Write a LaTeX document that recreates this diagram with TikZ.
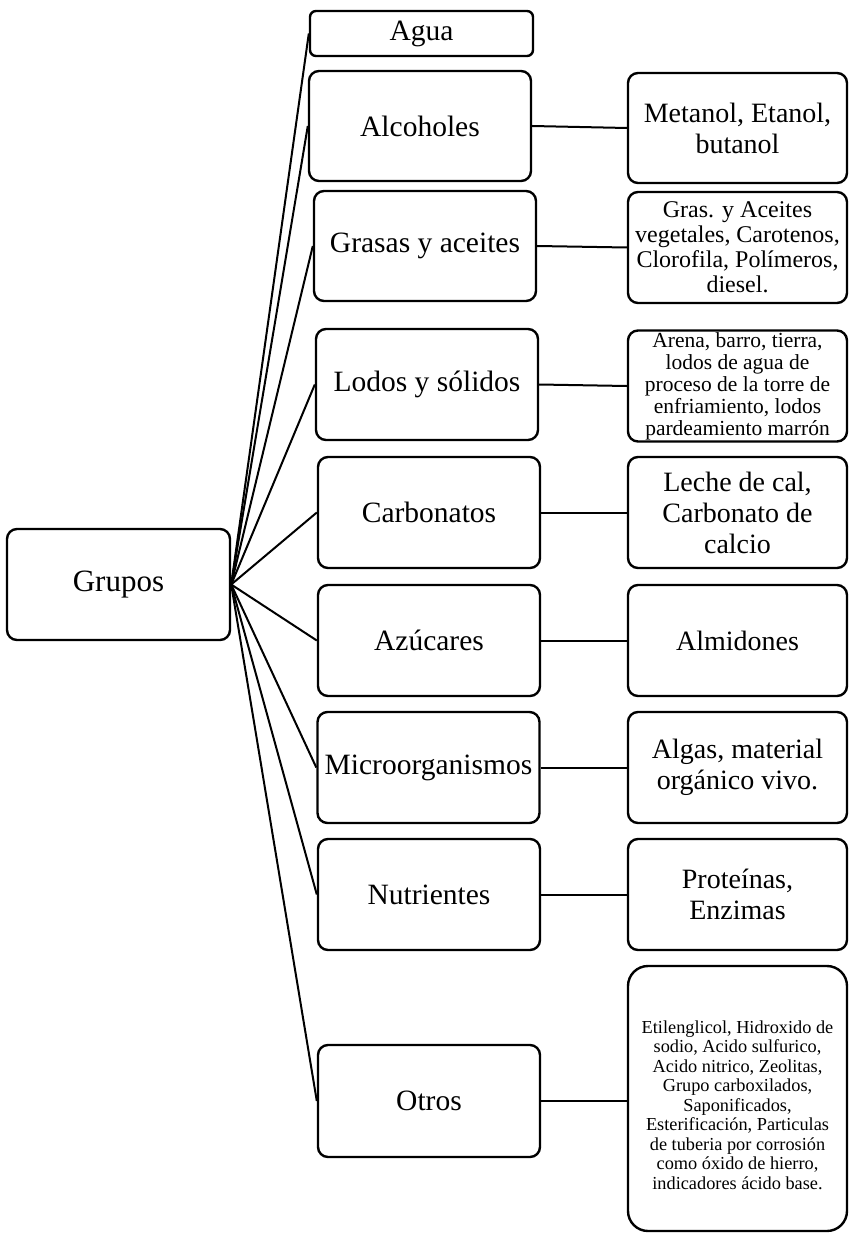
\documentclass[tikz,border=0pt]{standalone}
\usepackage{fontspec}
\setmainfont{Liberation Serif}
\begin{document}
\begin{tikzpicture}[x=1pt,y=-1pt,
  box/.style={draw, line width=2.4pt, rounded corners=10pt, inner sep=0pt, align=center},
  leftbox/.style={box, minimum width=222pt, minimum height=111pt, font=\fontsize{29.5}{32}\selectfont},
  rightbox/.style={box, minimum width=219pt, minimum height=111pt},
  big/.style={font=\fontsize{28}{31}\selectfont},
  link/.style={line width=2pt}]
\useasboundingbox (0,0) rectangle (849,1233);

% root
\node[box, minimum width=223pt, minimum height=111pt, font=\fontsize{31}{34}\selectfont] (grupos) at (118.5,584.5) {Grupos};

% first level
\node[box, rounded corners=6pt, minimum width=223pt, minimum height=45pt, font=\fontsize{29.5}{32}\selectfont] (agua) at (421.5,33.5) {Agua};
\node[leftbox, minimum height=110pt] (alc) at (420,126) {Alcoholes};
\node[leftbox, minimum height=110pt] (gras) at (425,246) {Grasas y aceites};
\node[leftbox] (lodos) at (427,384.5) {Lodos y sólidos};
\node[leftbox] (carb) at (429,512.5) {Carbonatos};
\node[leftbox] (azu) at (429,640.5) {Azúcares};
\node[leftbox] (micro) at (428.5,767.5) {Microorganismos};
\node[leftbox] (nutr) at (429,894.5) {Nutrientes};
\node[leftbox, minimum height=112pt] (otros) at (429,1101) {Otros};

% second level
\node[rightbox, big, minimum height=110pt] (alcR) at (737.5,128) {Metanol, Etanol,\\butanol};
\node[rightbox, font=\fontsize{24}{25}\selectfont] (grasR) at (737.5,247.5) {Gras. y Aceites\\vegetales, Carotenos,\\Clorofila, Polímeros,\\diesel.};
\node[rightbox, font=\fontsize{21.5}{22}\selectfont] (lodosR) at (737.5,386) {Arena, barro, tierra,\\lodos de agua de\\proceso de la torre de\\enfriamiento, lodos\\pardeamiento marrón};
\node[rightbox, big] (carbR) at (737.5,512.5) {Leche de cal,\\Carbonato de\\calcio};
\node[rightbox, big] (azuR) at (737.5,640.5) {Almidones};
\node[rightbox, big] (microR) at (737.5,767.5) {Algas, material\\orgánico vivo.};
\node[rightbox, big] (nutrR) at (737.5,894.5) {Proteínas,\\Enzimas};
\node[rightbox, rounded corners=20pt, minimum height=265pt] (otrosR) at (737.5,1098.5) {};
\node[inner sep=0pt, align=center, font=\fontsize{18.3}{19.5}\selectfont] (otrosRtext) at (737.5,1105) {Etilenglicol, Hidroxido de\\sodio, Acido sulfurico,\\Acido nitrico, Zeolitas,\\Grupo carboxilados,\\Saponificados,\\Esterificación, Particulas\\de tuberia por corrosión\\como óxido de hierro,\\indicadores ácido base.};

% connectors from the root
\foreach \n in {agua,alc,gras,lodos,carb,azu,micro,nutr,otros}
  \draw[link] (grupos.east) -- (\n.west);

% connectors to the examples
\foreach \a/\b in {alc/alcR,gras/grasR,lodos/lodosR,carb/carbR,azu/azuR,micro/microR,nutr/nutrR}
  \draw[link] (\a.east) -- (\b.west);
\draw[link] (otros.east) -- (otros.east -| otrosR.west);
\end{tikzpicture}
\end{document}
